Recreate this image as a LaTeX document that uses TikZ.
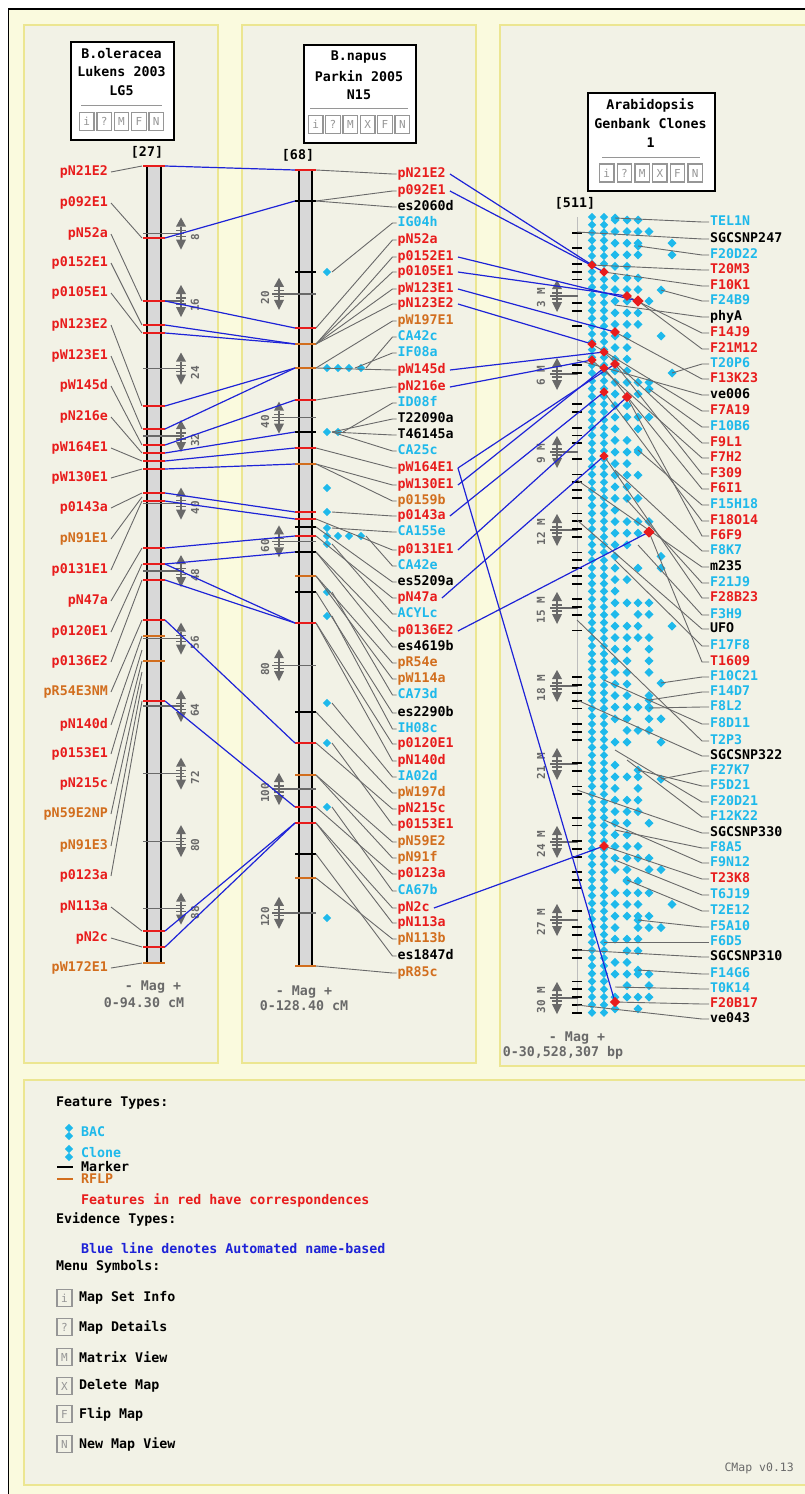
\documentclass[tikz,border=0pt]{standalone}
\usepackage{fontspec}
\setmonofont{DejaVu Sans Mono}
\definecolor{cred}{RGB}{232,28,28}
\definecolor{ccy}{RGB}{30,185,235}
\definecolor{corg}{RGB}{210,110,30}
\definecolor{cblu}{RGB}{30,35,215}
\definecolor{cgry}{RGB}{105,105,105}
\definecolor{cpanel}{RGB}{242,242,230}
\definecolor{cgap}{RGB}{250,250,222}
\definecolor{cyel}{RGB}{236,230,145}
\definecolor{cbar}{RGB}{216,216,216}
\definecolor{cbtn}{RGB}{150,150,150}
\newcommand\dmd[4]{\fill[#1] (#2,#3-#4) -- (#2+#4,#3) -- (#2,#3+#4) -- (#2-#4,#3) -- cycle;}
\newcommand\smark[2]{%
  \fill[cgry] (#1-5,#2-7) -- (#1,#2-16) -- (#1+5,#2-7) -- cycle;
  \fill[cgry] (#1-5,#2+6) -- (#1,#2+16) -- (#1+5,#2+6) -- cycle;
  \draw[cgry,line width=1.3pt] (#1,#2-7) -- (#1,#2+6);
  \draw[cgry,line width=1.2pt] (#1-5,#2-3) -- (#1+5,#2-3) (#1-5,#2+3) -- (#1+5,#2+3);}
\begin{document}
\begin{tikzpicture}[x=1pt,y=-1pt,
  lbl/.style={font=\ttfamily\bfseries\fontsize{13.3}{15}\selectfont,inner sep=1pt,text height=9.5pt,text depth=2.5pt},
  ttl/.style={font=\ttfamily\bfseries\fontsize{13.3}{15}\selectfont,inner sep=0pt},
  snum/.style={font=\ttfamily\bfseries\fontsize{11}{12}\selectfont,text=cgry,rotate=90,inner sep=0pt},
  btn/.style={draw=cbtn,line width=1.3pt,minimum width=14.5pt,minimum height=18pt,inner sep=0pt,text=cbtn,font=\ttfamily\fontsize{11}{12}\selectfont},
  leader/.style={draw=cgry,line width=0.9pt},
  corr/.style={draw=cblu,line width=1.2pt},
  tk/.style={line width=2pt},
  sline/.style={draw=cgry,line width=1.4pt},
  panel/.style={fill=cpanel,draw=cyel,line width=1.2pt}]
\useasboundingbox (0,0) rectangle (805,1494);
\clip (0,0) rectangle (805,1494);
\fill[white] (0,0) rectangle (805,1494);
% frame and panels
\draw[line width=1.6pt,fill=cgap] (8.5,9) rectangle (840,1530);
\draw[panel] (24,25) rectangle (218,1063);
\draw[panel] (242,25) rectangle (476,1063);
\draw[panel] (500,25) rectangle (830,1066);
\draw[panel] (24,1080) rectangle (830,1485);

% ---------------- title boxes
\node[draw=black,line width=1.6pt,fill=white,minimum width=103pt,minimum height=98pt,anchor=north west,inner sep=0pt] (boxL) at (70,41) {};
\node[ttl] at (121.5,54) {B.oleracea};
\node[ttl] at (121.5,72) {Lukens 2003};
\node[ttl] at (121.5,91) {LG5};
\draw[cbtn,line width=1pt] (81,105) -- (162,105);
\foreach \i/\ch in {0/i,1/?,2/M,3/F,4/N} \node[btn] at ({86.7+17.4*\i},121.5) {\ch};

\node[draw=black,line width=1.6pt,fill=white,minimum width=112pt,minimum height=98pt,anchor=north west,inner sep=0pt] (boxM) at (303,44) {};
\node[ttl] at (359,57) {B.napus};
\node[ttl] at (359,76) {Parkin 2005};
\node[ttl] at (359,95) {N15};
\draw[cbtn,line width=1pt] (310,108) -- (408,108);
\foreach \i/\ch in {0/i,1/?,2/M,3/X,4/F,5/N} \node[btn] at ({315.7+17.33*\i},124.5) {\ch};

\node[draw=black,line width=1.6pt,fill=white,minimum width=127pt,minimum height=98pt,anchor=north west,inner sep=0pt] (boxR) at (587,92) {};
\node[ttl] at (650.5,105) {Arabidopsis};
\node[ttl] at (650.5,124) {Genbank Clones};
\node[ttl] at (650.5,143) {1};
\draw[cbtn,line width=1pt] (602,157) -- (700,157);
\foreach \i/\ch in {0/i,1/?,2/M,3/X,4/F,5/N} \node[btn] at ({606.8+17.67*\i},173) {\ch};

\node[ttl] at (147,152) {[27]};
\node[ttl] at (298,155) {[68]};
\node[ttl] at (575,203) {[511]};

% ---------------- bars
\fill[cbar] (147,166) rectangle (161,963);
\draw[black,line width=2pt] (147,166) -- (147,963) (161,166) -- (161,963);
\fill[cbar] (299,170) rectangle (312,966);
\draw[black,line width=2pt] (299,170) -- (299,966) (312,170) -- (312,966);
\draw[color={rgb,255:red,190;green,190;blue,190},line width=1pt] (577,217) -- (577,1013);

% scales
\foreach \v in {8,16,...,88}{
  \pgfmathsetmacro\yy{166+8.44*\v}
  \draw[sline] (143,\yy) -- (184,\yy);
  \smark{181}{\yy}
  \node[snum] at (195,\yy+4) {\v};}
\foreach \v in {20,40,...,120}{
  \pgfmathsetmacro\yy{170+6.19*\v}
  \draw[sline] (272,\yy) -- (316,\yy);
  \smark{279}{\yy}
  \node[snum] at (265,\yy+4) {\v};}
\foreach \v in {3,6,...,30}{
  \pgfmathsetmacro\yy{218+26*\v}
  \draw[sline] (550,\yy) -- (578,\yy);
  \smark{557}{\yy}
  \node[snum] at (541,\yy+2) {\v\ M};}

% ---------------- ticks
\foreach \y/\cl in {166/cred,238/cred,301/cred,325/cred,333/cred,406/cred,429/cred,445/cred,453/cred,461/cred,469/cred,493/cred,501/cred,548/cred,564/cred,580/cred,620/cred,636/corg,661/corg,701/cred,931/cred,947/cred,963/corg}{
  \draw[tk,\cl] (143,\y) -- (165,\y);
  \coordinate (Lr\y) at (165,\y);}
\foreach \y/\cl in {170/cred,201/black,272/black,328/cred,344/corg,368/corg,400/cred,432/black,448/cred,464/corg,512/cred,519/cred,527/black,536/cred,552/black,576/corg,592/black,623/cred,712/black,743/cred,775/corg,807/cred,823/cred,854/black,878/corg,966/corg}{
  \draw[tk,\cl] (295,\y) -- (316,\y);
  \coordinate (Ml\y) at (295,\y);}

% middle diamonds
\foreach \x/\y in {327/272,327/368,338/368,349/368,361/368,327/432,338/432,327/488,327/512,327/528,327/536,338/536,349/536,361/536,327/544,327/592,327/616,327/703,327/743,327/807,327/918}
  {\dmd{ccy}{\x}{\y}{4.2}}

% right ruler ticks and diamond grid
\pgfmathsetseed{11}
\foreach \k in {0,...,102}{
  \pgfmathsetmacro\yy{217+7.8*\k}
  \dmd{ccy}{592}{\yy}{4.2}
  \dmd{ccy}{604}{\yy}{4.2}
  \pgfmathsetmacro\rv{rnd}
  \ifdim\rv pt<0.55pt\relax \draw[black,line width=1.8pt] (572,\yy) -- (582,\yy);\fi}
\foreach \k in {0,...,68}{
  \pgfmathsetmacro\yy{220+11.6*\k}
  \pgfmathsetmacro\fac{\yy<420 ? 1.25 : (\yy<700 ? 0.95 : 1.05)}
  \foreach \col/\p in {615/0.92,627/0.72,638/0.52,649/0.3,661/0.07,672/0.04}{
    \pgfmathsetmacro\rv{rnd}
    \pgfmathsetmacro\pr{\p*\fac}
    \ifdim\rv pt<\pr pt\relax \dmd{ccy}{\col}{\yy}{4.5}\fi}}
\foreach \x/\y in {615/218,638/246,661/290,672/373,649/389,638/450,661/683,649/700,649/708,661/779,638/770,627/880,638/920,638/970}
  {\dmd{ccy}{\x}{\y}{4.5}}

% ---------------- left labels
\foreach \nm/\ly/\cl/\ty in {pN21E2/172/cred/166,p092E1/203/cred/238,pN52a/234/cred/301,p0152E1/263/cred/325,p0105E1/293/cred/333,pN123E2/325/cred/406,pW123E1/356/cred/429,pW145d/386/cred/445,pN216e/417/cred/453,pW164E1/448/cred/461,pW130E1/478/cred/469,p0143a/508/cred/493,pN91E1/539/corg/497,p0131E1/570/cred/501,pN47a/601/cred/548,p0120E1/632/cred/564,p0136E2/662/cred/580,pR54E3NM/692/corg/620,pN140d/725/cred/636,p0153E1/754/cred/650,pN215c/784/cred/661,pN59E2NP/814/corg/672,pN91E3/846/corg/684,p0123a/876/cred/701,pN113a/907/cred/931,pN2c/938/cred/947,pW172E1/968/corg/963}{
  \node[lbl,text=\cl,anchor=east] (L\nm) at (109,\ly) {\nm};
  \coordinate (LT\nm) at (142,\ty);
  \draw[leader] ([xshift=2pt]L\nm.east) -- (LT\nm);}

% ---------------- middle labels
\foreach \nm/\ly/\cl/\tx/\ty in {pN21E2/174/cred/316/170,p092E1/191/cred/316/201,es2060d/207/black/316/201,IG04h/223/ccy/332/272,pN52a/240/cred/316/328,p0152E1/257/cred/316/344,p0105E1/272/cred/316/344,pW123E1/289/cred/316/344,pN123E2/304/cred/316/344,pW197E1/321/corg/316/368,CA42c/337/ccy/366/368,IF08a/353/ccy/355/368,pW145d/370/cred/316/368,pN216e/387/cred/316/400,ID08f/403/ccy/343/432,T22090a/419/black/332/432,T46145a/435/black/332/432,CA25c/451/ccy/332/432,pW164E1/468/cred/316/448,pW130E1/485/cred/316/464,p0159b/501/corg/316/464,p0143a/516/cred/332/512,CA155e/532/ccy/332/528,p0131E1/550/cred/316/519,CA42e/566/ccy/366/536,es5209a/582/black/316/527,pN47a/598/cred/316/536,ACYLc/614/ccy/332/544,p0136E2/631/cred/316/552,es4619b/647/black/316/552,pR54e/663/corg/316/576,pW114a/679/corg/316/576,CA73d/695/ccy/332/592,es2290b/713/black/316/592,IH08c/729/ccy/332/616,p0120E1/744/cred/316/623,pN140d/761/cred/316/623,IA02d/777/ccy/332/703,pW197d/793/corg/316/712,pN215c/809/cred/316/743,p0153E1/825/cred/332/743,pN59E2/842/corg/316/775,pN91f/858/corg/316/775,p0123a/874/cred/316/807,CA67b/891/ccy/332/807,pN2c/908/cred/316/823,pN113a/923/cred/316/823,pN113b/939/corg/316/878,es1847d/956/black/316/854,pR85c/973/corg/316/966}{
  \node[lbl,text=\cl,anchor=west] (M\nm) at (396.5,\ly) {\nm};
  \coordinate (MT\nm) at (\tx,\ty);
  \draw[leader] (MT\nm) -- ([xshift=-4pt]M\nm.west) -- (M\nm.west);}

% ---------------- right labels
\foreach \nm/\ly/\cl/\tx/\ty in {TEL1N/222/ccy/615/218,SGCSNP247/239/black/577/232,F20D22/255/ccy/638/246,T20M3/270/cred/592/265,F10K1/286/cred/604/272,F24B9/301/ccy/661/290,phyA/317/black/615/305,F14J9/333/cred/627/296,F21M12/349/cred/638/301,T20P6/364/ccy/672/373,F13K23/379/cred/615/332,ve006/395/black/577/360,F7A19/411/cred/592/344,F10B6/427/ccy/649/389,F9L1/443/cred/604/352,F7H2/458/cred/592/360,F309/474/cred/615/364,F6I1/489/cred/604/368,F15H18/505/ccy/638/450,F18O14/521/cred/604/392,F6F9/536/cred/627/397,F8K7/551/ccy/615/470,m235/567/black/577/480,F21J9/583/ccy/627/500,F28B23/598/cred/604/456,F3H9/615/ccy/638/545,UFO/629/black/577/520,F17F8/646/ccy/615/560,T1609/662/cred/649/532,F10C21/677/ccy/661/683,F14D7/692/ccy/649/700,F8L2/707/ccy/649/708,F8D11/724/ccy/604/680,T2P3/741/ccy/577/620,SGCSNP322/756/black/577/700,F27K7/771/ccy/661/779,F5D21/786/ccy/638/770,F20D21/802/ccy/615/750,F12K22/817/ccy/627/760,SGCSNP330/833/black/577/790,F8A5/848/ccy/615/830,F9N12/863/ccy/604/820,T23K8/879/cred/604/846,T6J19/895/ccy/615/860,T2E12/911/ccy/627/880,F5A10/927/ccy/638/920,F6D5/942/ccy/604/942,SGCSNP310/957/black/577/950,F14G6/974/ccy/638/970,T0K14/989/ccy/615/987,F20B17/1004/cred/615/1002,ve043/1019/black/577/1005}{
  \node[lbl,text=\cl,anchor=west] (R\nm) at (709,\ly) {\nm};
  \coordinate (RT\nm) at (\tx,\ty);
  \draw[leader] (RT\nm) -- ([xshift=-7pt]R\nm.west) -- (R\nm.west);}

% ---------------- correspondences left -> middle
\foreach \a/\b in {166/170,238/201,301/328,325/344,333/344,406/368,429/368,445/400,453/432,461/448,469/464,493/512,501/519,548/536,564/552,564/623,580/623,620/743,701/807,931/823,947/823}
  {\draw[corr] (Lr\a) -- (Ml\b);}

% red diamonds on the right
\foreach \i/\x/\y/\s in {1/592/265/4.6,2/604/272/4.6,3/627/296/4.8,4/638/301/5.6,5/615/332/4.8,6/592/344/4.6,7/604/352/4.6,8/592/360/4.6,9/615/364/4.8,10/604/368/4.6,11/604/392/4.6,12/627/397/5.2,13/604/456/4.6,14/649/532/5.6,15/604/846/4.8,16/615/1002/5.2}
  {\coordinate (RD\i) at (\x,\y);}
\foreach \nm/\i in {pN21E2/1,p092E1/2,p0152E1/4,p0105E1/3,pW123E1/5,pN123E2/6,pW145d/7,pN216e/8,pW164E1/9,pW130E1/10,p0143a/11,p0131E1/12,pN47a/13,p0136E2/14,pN2c/15,pW164E1/16}
  {\draw[corr] ([xshift=3pt]M\nm.east) -- (RD\i);}
\foreach \i/\x/\y/\s in {1/592/265/4.6,2/604/272/4.6,3/627/296/4.8,4/638/301/5.6,5/615/332/4.8,6/592/344/4.6,7/604/352/4.6,8/592/360/4.6,9/615/364/4.8,10/604/368/4.6,11/604/392/4.6,12/627/397/5.2,13/604/456/4.6,14/649/532/5.6,15/604/846/4.8,16/615/1002/5.2}
  {\dmd{cred}{\x}{\y}{\s}}

% ---------------- map captions
\node[ttl,text=cgry] at (153,987) {- Mag +};
\node[ttl,text=cgry] at (144,1003) {0-94.30 cM};
\node[ttl,text=cgry] at (304,992) {- Mag +};
\node[ttl,text=cgry] at (304,1006) {0-128.40 cM};
\node[ttl,text=cgry] at (577,1038) {- Mag +};
\node[ttl,text=cgry] at (563,1053) {0-30,528,307 bp};

% ---------------- legend
\node[ttl,anchor=west] (lgft) at (56,1103) {Feature Types:};
\dmd{ccy}{69}{1128}{4.2}\dmd{ccy}{69}{1136}{4.2}
\node[ttl,anchor=west,text=ccy] (lgbac) at (81,1132) {BAC};
\dmd{ccy}{69}{1149}{4.2}\dmd{ccy}{69}{1157}{4.2}
\node[ttl,anchor=west,text=ccy] (lgclone) at (81,1153) {Clone};
\draw[black,line width=1.5pt] (57,1167) -- (73,1167);
\node[ttl,anchor=west] (lgmk) at (81,1167) {Marker};
\draw[corg,line width=1.5pt] (57,1179) -- (73,1179);
\node[ttl,anchor=west,text=corg] (lgrf) at (81,1179) {RFLP};
\node[ttl,anchor=west,text=cred] (lgred) at (81,1200) {Features in red have correspondences};
\node[ttl,anchor=west] (lget) at (56,1219) {Evidence Types:};
\node[ttl,anchor=west,text=cblu] (lgblue) at (81,1248) {Blue line denotes Automated name-based};
\node[ttl,anchor=west] (lgms) at (56,1267) {Menu Symbols:};
\foreach \ch/\txt/\y in {i/Map Set Info/1298,?/Map Details/1327,M/Matrix View/1357,X/Delete Map/1386,F/Flip Map/1414,N/New Map View/1444}{
  \node[btn,minimum width=15pt,minimum height=17pt] at (64.5,\y) {\ch};
  \node[ttl,anchor=west] at (79,\y) {\txt};}
\node[ttl,anchor=east,text=cgry,font=\ttfamily\fontsize{11.5}{13}\selectfont] (ver) at (794,1468) {CMap v0.13};
\end{tikzpicture}
\end{document}
